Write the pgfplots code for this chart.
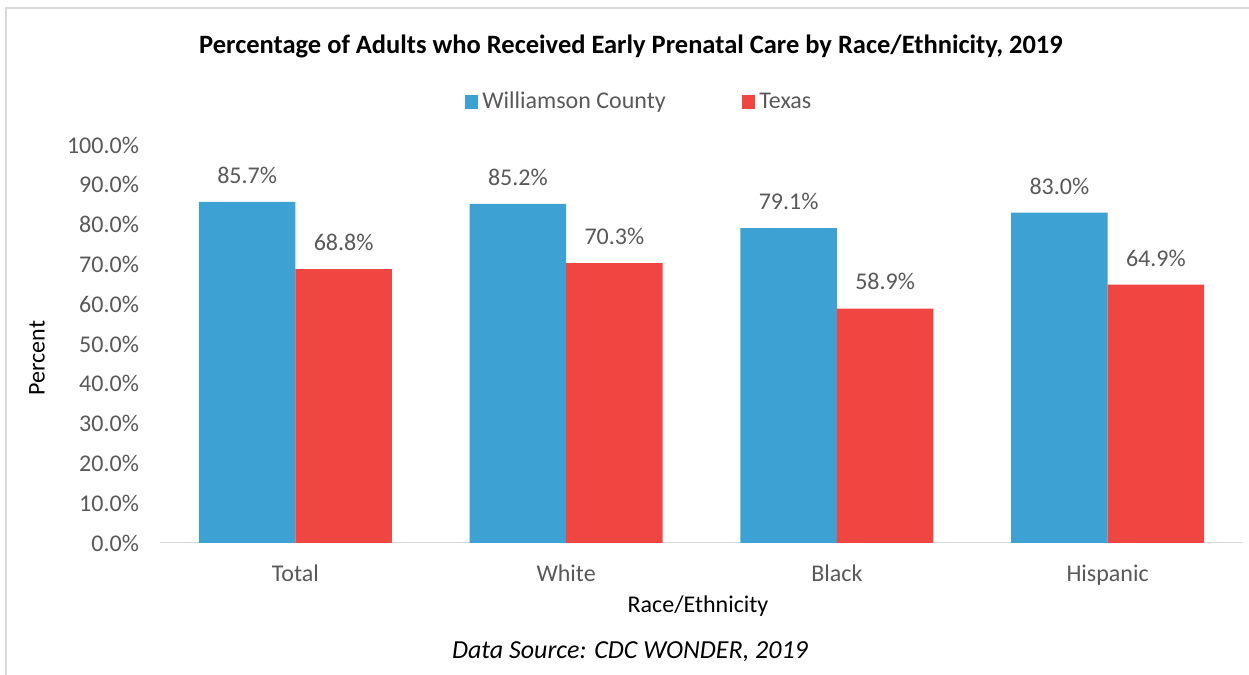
\documentclass[border=0pt]{standalone}
\usepackage{pgfplots}
\pgfplotsset{compat=1.18}
\usepackage{fontspec}
\setmainfont{Carlito}
\definecolor{wblue}{RGB}{62,161,211}
\definecolor{txred}{RGB}{240,70,65}
\definecolor{tgray}{RGB}{89,89,89}
\definecolor{lgray}{RGB}{217,217,217}
\begin{document}
\begin{tikzpicture}[x=0.5pt,y=0.5pt]
\path[use as bounding box] (0,0) rectangle (1249,675);
\fill[white] (0,0) rectangle (1249,675);
\draw[lgray,line width=1pt] (6,0) -- (6,667) -- (1249,667);
\begin{axis}[
  at={(80pt,66pt)}, anchor=south west,
  scale only axis, width=541.5pt, height=199pt,
  xmin=-0.5, xmax=3.5, ymin=0, ymax=100,
  axis line style={draw=none},
  ytick={0,10,...,100},
  yticklabel={\pgfmathprintnumber[fixed,fixed zerofill,precision=1]{\tick}\%},
  xtick={0,1,2,3},
  xticklabels={Total,White,Black,Hispanic},
  ticklabel style={font=\fontsize{12pt}{14pt}\selectfont, text=tgray},
  /pgf/number format/assume math mode=true,
  major tick length=0pt,
  tick style={draw=none},
  yticklabel style={xshift=-7pt},
  xticklabel style={yshift=-7.5pt},
  ybar, bar width=0.3564,
  nodes near coords={\pgfmathprintnumber[fixed,fixed zerofill,precision=1]{\pgfplotspointmeta}\%},
  every node near coord/.append style={anchor=south, inner sep=0pt, yshift=9pt, font=\fontsize{12pt}{14pt}\selectfont, text=tgray},
  legend style={at={(0.4432,1.108)}, anchor=center, draw=none, fill=none, legend columns=2,
    font=\fontsize{12pt}{14pt}\selectfont, text=tgray,
    /tikz/every even column/.append style={column sep=36pt}},
  legend cell align=left,
  legend image code/.code={\fill[#1] (-1pt,-3.4pt) rectangle (5.8pt,3.4pt);},
]
\draw[lgray, line width=1pt] (axis cs:-0.5,0) -- (axis cs:3.5,0);
\addplot[fill=wblue, draw=none, bar shift=-0.1782] coordinates {(0,85.7) (1,85.2) (2,79.1) (3,83.0)};
\addplot[fill=txred, draw=none, bar shift=0.1782] coordinates {(0,68.8) (1,70.3) (2,58.9) (3,64.9)};
\legend{Williamson County, Texas}
\end{axis}
\node[font=\fontsize{13.25pt}{15pt}\selectfont\bfseries] at (631,629) {Percentage of Adults who Received Early Prenatal Care by Race/Ethnicity, 2019};
\node[font=\fontsize{12pt}{14pt}\selectfont, rotate=90] at (37,317) {Percent};
\node[font=\fontsize{12pt}{14pt}\selectfont] at (698,69) {Race/Ethnicity};
\node[font=\fontsize{13pt}{15pt}\selectfont\itshape] at (630,23) {Data Source: CDC WONDER, 2019};
\end{tikzpicture}
\end{document}
